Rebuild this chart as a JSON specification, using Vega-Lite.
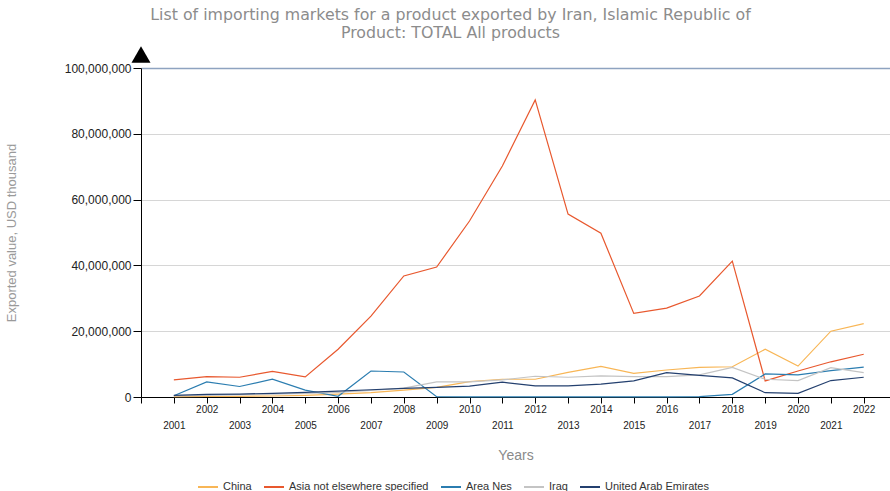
{
  "$schema": "https://vega.github.io/schema/vega-lite/v6.json",
  "width": 749,
  "height": 329,
  "autosize": {"type": "none"},
  "padding": {"left": 141, "top": 68, "right": 0, "bottom": 94},
  "background": "white",
  "config": {"view": {"stroke": null}},
  "title": {
    "text": ["List of importing markets for a product exported by Iran, Islamic Republic of", "Product: TOTAL All products"],
    "anchor": "middle",
    "frame": "group",
    "dx": -65,
    "font": "DejaVu Sans",
    "fontSize": 15.8,
    "fontWeight": "normal",
    "color": "#8c8c8c",
    "lineHeight": 18,
    "offset": 4
  },
  "datasets": {
    "series": [
      {"year": 2001, "market": "China", "value": 100000},
      {"year": 2002, "market": "China", "value": 150000},
      {"year": 2003, "market": "China", "value": 200000},
      {"year": 2004, "market": "China", "value": 300000},
      {"year": 2005, "market": "China", "value": 500000},
      {"year": 2006, "market": "China", "value": 900000},
      {"year": 2007, "market": "China", "value": 1300000},
      {"year": 2008, "market": "China", "value": 2100000},
      {"year": 2009, "market": "China", "value": 2900000},
      {"year": 2010, "market": "China", "value": 4700000},
      {"year": 2011, "market": "China", "value": 5400000},
      {"year": 2012, "market": "China", "value": 5400000},
      {"year": 2013, "market": "China", "value": 7500000},
      {"year": 2014, "market": "China", "value": 9300000},
      {"year": 2015, "market": "China", "value": 7200000},
      {"year": 2016, "market": "China", "value": 8200000},
      {"year": 2017, "market": "China", "value": 9000000},
      {"year": 2018, "market": "China", "value": 9200000},
      {"year": 2019, "market": "China", "value": 14500000},
      {"year": 2020, "market": "China", "value": 9400000},
      {"year": 2021, "market": "China", "value": 20000000},
      {"year": 2022, "market": "China", "value": 22300000},
      {"year": 2001, "market": "Asia not elsewhere specified", "value": 5200000},
      {"year": 2002, "market": "Asia not elsewhere specified", "value": 6200000},
      {"year": 2003, "market": "Asia not elsewhere specified", "value": 6000000},
      {"year": 2004, "market": "Asia not elsewhere specified", "value": 7800000},
      {"year": 2005, "market": "Asia not elsewhere specified", "value": 6100000},
      {"year": 2006, "market": "Asia not elsewhere specified", "value": 14500000},
      {"year": 2007, "market": "Asia not elsewhere specified", "value": 24600000},
      {"year": 2008, "market": "Asia not elsewhere specified", "value": 36800000},
      {"year": 2009, "market": "Asia not elsewhere specified", "value": 39500000},
      {"year": 2010, "market": "Asia not elsewhere specified", "value": 53500000},
      {"year": 2011, "market": "Asia not elsewhere specified", "value": 70200000},
      {"year": 2012, "market": "Asia not elsewhere specified", "value": 90300000},
      {"year": 2013, "market": "Asia not elsewhere specified", "value": 55600000},
      {"year": 2014, "market": "Asia not elsewhere specified", "value": 49800000},
      {"year": 2015, "market": "Asia not elsewhere specified", "value": 25400000},
      {"year": 2016, "market": "Asia not elsewhere specified", "value": 27000000},
      {"year": 2017, "market": "Asia not elsewhere specified", "value": 30700000},
      {"year": 2018, "market": "Asia not elsewhere specified", "value": 41300000},
      {"year": 2019, "market": "Asia not elsewhere specified", "value": 4900000},
      {"year": 2020, "market": "Asia not elsewhere specified", "value": 7900000},
      {"year": 2021, "market": "Asia not elsewhere specified", "value": 10700000},
      {"year": 2022, "market": "Asia not elsewhere specified", "value": 13000000},
      {"year": 2001, "market": "Area Nes", "value": 400000},
      {"year": 2002, "market": "Area Nes", "value": 4600000},
      {"year": 2003, "market": "Area Nes", "value": 3200000},
      {"year": 2004, "market": "Area Nes", "value": 5400000},
      {"year": 2005, "market": "Area Nes", "value": 2100000},
      {"year": 2006, "market": "Area Nes", "value": 200000},
      {"year": 2007, "market": "Area Nes", "value": 7900000},
      {"year": 2008, "market": "Area Nes", "value": 7600000},
      {"year": 2009, "market": "Area Nes", "value": 100000},
      {"year": 2010, "market": "Area Nes", "value": 50000},
      {"year": 2011, "market": "Area Nes", "value": 50000},
      {"year": 2012, "market": "Area Nes", "value": 50000},
      {"year": 2013, "market": "Area Nes", "value": 50000},
      {"year": 2014, "market": "Area Nes", "value": 50000},
      {"year": 2015, "market": "Area Nes", "value": 50000},
      {"year": 2016, "market": "Area Nes", "value": 50000},
      {"year": 2017, "market": "Area Nes", "value": 100000},
      {"year": 2018, "market": "Area Nes", "value": 800000},
      {"year": 2019, "market": "Area Nes", "value": 7000000},
      {"year": 2020, "market": "Area Nes", "value": 6700000},
      {"year": 2021, "market": "Area Nes", "value": 8000000},
      {"year": 2022, "market": "Area Nes", "value": 9100000},
      {"year": 2001, "market": "Iraq", "value": 300000},
      {"year": 2002, "market": "Iraq", "value": 500000},
      {"year": 2003, "market": "Iraq", "value": 700000},
      {"year": 2004, "market": "Iraq", "value": 900000},
      {"year": 2005, "market": "Iraq", "value": 1100000},
      {"year": 2006, "market": "Iraq", "value": 1400000},
      {"year": 2007, "market": "Iraq", "value": 2000000},
      {"year": 2008, "market": "Iraq", "value": 2700000},
      {"year": 2009, "market": "Iraq", "value": 4600000},
      {"year": 2010, "market": "Iraq", "value": 4600000},
      {"year": 2011, "market": "Iraq", "value": 5200000},
      {"year": 2012, "market": "Iraq", "value": 6300000},
      {"year": 2013, "market": "Iraq", "value": 6000000},
      {"year": 2014, "market": "Iraq", "value": 6400000},
      {"year": 2015, "market": "Iraq", "value": 6200000},
      {"year": 2016, "market": "Iraq", "value": 6200000},
      {"year": 2017, "market": "Iraq", "value": 6700000},
      {"year": 2018, "market": "Iraq", "value": 9000000},
      {"year": 2019, "market": "Iraq", "value": 5400000},
      {"year": 2020, "market": "Iraq", "value": 5000000},
      {"year": 2021, "market": "Iraq", "value": 8900000},
      {"year": 2022, "market": "Iraq", "value": 7400000},
      {"year": 2001, "market": "United Arab Emirates", "value": 500000},
      {"year": 2002, "market": "United Arab Emirates", "value": 800000},
      {"year": 2003, "market": "United Arab Emirates", "value": 900000},
      {"year": 2004, "market": "United Arab Emirates", "value": 1100000},
      {"year": 2005, "market": "United Arab Emirates", "value": 1400000},
      {"year": 2006, "market": "United Arab Emirates", "value": 1800000},
      {"year": 2007, "market": "United Arab Emirates", "value": 2200000},
      {"year": 2008, "market": "United Arab Emirates", "value": 2600000},
      {"year": 2009, "market": "United Arab Emirates", "value": 2900000},
      {"year": 2010, "market": "United Arab Emirates", "value": 3300000},
      {"year": 2011, "market": "United Arab Emirates", "value": 4500000},
      {"year": 2012, "market": "United Arab Emirates", "value": 3400000},
      {"year": 2013, "market": "United Arab Emirates", "value": 3400000},
      {"year": 2014, "market": "United Arab Emirates", "value": 3900000},
      {"year": 2015, "market": "United Arab Emirates", "value": 4900000},
      {"year": 2016, "market": "United Arab Emirates", "value": 7400000},
      {"year": 2017, "market": "United Arab Emirates", "value": 6600000},
      {"year": 2018, "market": "United Arab Emirates", "value": 5800000},
      {"year": 2019, "market": "United Arab Emirates", "value": 1300000},
      {"year": 2020, "market": "United Arab Emirates", "value": 1100000},
      {"year": 2021, "market": "United Arab Emirates", "value": 5000000},
      {"year": 2022, "market": "United Arab Emirates", "value": 6000000}
    ],
    "marker": [{"label": "axis arrow"}]
  },
  "resolve": {"axis": {"x": "independent"}},
  "layer": [
    {
      "data": {"name": "series"},
      "mark": {"type": "line", "strokeWidth": 1.2, "clip": false},
      "encoding": {
        "x": {
          "field": "year",
          "type": "quantitative",
          "scale": {"domain": [2000, 2022.8], "nice": false, "zero": false},
          "axis": {
            "orient": "bottom",
            "values": [2000, 2001, 2002, 2003, 2004, 2005, 2006, 2007, 2008, 2009, 2010, 2011, 2012, 2013, 2014, 2015, 2016, 2017, 2018, 2019, 2020, 2021, 2022],
            "labelExpr": "datum.value % 2 == 0 && datum.value != 2000 ? format(datum.value, 'd') : ''",
            "title": null,
            "labelFont": "Liberation Sans",
            "labelFontSize": 10,
            "labelColor": "#222222",
            "labelPadding": 1.5,
            "labelOverlap": false,
            "labelFlush": false,
            "grid": false,
            "domainColor": "#000000",
            "domainWidth": 1,
            "tickColor": "#000000",
            "tickSize": 6
          }
        },
        "y": {
          "field": "value",
          "type": "quantitative",
          "scale": {"domain": [0, 100000000], "nice": false},
          "axis": {
            "values": [0, 20000000, 40000000, 60000000, 80000000, 100000000],
            "format": ",d",
            "title": "Exported value, USD thousand",
            "titleFont": "Liberation Sans",
            "titleFontSize": 13,
            "titleFontWeight": "normal",
            "titleColor": "#9a9a9a",
            "titlePadding": 46,
            "labelFont": "Liberation Sans",
            "labelFontSize": 12,
            "labelColor": "#222222",
            "labelPadding": 2,
            "grid": true,
            "gridColor": {"condition": {"test": "datum.value == 100000000", "value": "#8ea3c0"}, "value": "#d6d6d6"},
            "gridWidth": {"condition": {"test": "datum.value == 100000000", "value": 1.6}, "value": 1},
            "domainColor": "#000000",
            "tickColor": "#000000",
            "tickSize": 8
          }
        },
        "color": {
          "field": "market",
          "type": "nominal",
          "scale": {
            "domain": ["China", "Asia not elsewhere specified", "Area Nes", "Iraq", "United Arab Emirates"],
            "range": ["#f8b656", "#e8582e", "#2b7db0", "#c4c4c4", "#24406f"]
          },
          "legend": {
            "title": null,
            "orient": "none",
            "direction": "horizontal",
            "columns": 5,
            "legendX": 56,
            "legendY": 408,
            "symbolType": "stroke",
            "symbolSize": 400,
            "symbolStrokeWidth": 2,
            "labelFont": "Liberation Sans",
            "labelFontSize": 11,
            "labelColor": "#333333",
            "labelOffset": 4,
            "columnPadding": 8
          }
        }
      }
    },
    {
      "data": {"name": "marker"},
      "mark": {"type": "point", "shape": "triangle-up", "filled": true, "size": 361, "color": "#000000", "opacity": 1, "strokeWidth": 0, "clip": false},
      "encoding": {
        "x": {
          "datum": 2000,
          "type": "quantitative",
          "axis": {
            "orient": "bottom",
            "values": [2001, 2003, 2005, 2007, 2009, 2011, 2013, 2015, 2017, 2019, 2021],
            "format": "d",
            "domain": false,
            "ticks": false,
            "grid": false,
            "labelFont": "Liberation Sans",
            "labelFontSize": 10,
            "labelColor": "#222222",
            "labelPadding": 23.5,
            "labelOverlap": false,
            "labelFlush": false,
            "title": "Years",
            "titleFont": "Liberation Sans",
            "titleFontSize": 14,
            "titleFontWeight": "normal",
            "titleColor": "#8a8a8a",
            "titlePadding": 17.5
          }
        },
        "y": {"datum": 104100000, "type": "quantitative"}
      }
    }
  ]
}
